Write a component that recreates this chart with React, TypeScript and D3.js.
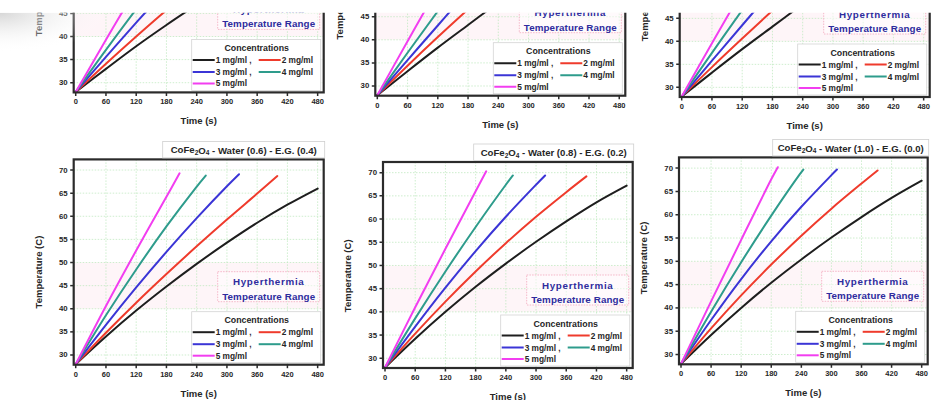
import React from 'react';
import * as d3 from 'd3';

type Pt = [number, number];

// ---------- data ----------
const concentrationLabels = ['1 mg/ml ,', '2 mg/ml', '3 mg/ml ,', '4 mg/ml', '5 mg/ml'];
const seriesColors = ['#1e1e1e', '#ef3b2c', '#3b35d6', '#2e9c8c', '#f23ef0'];
const timeTicks = [0, 60, 120, 180, 240, 300, 360, 420, 480];
const tempTicks = [30, 35, 40, 45, 50, 55, 60, 65, 70];
const waterFractions = ['', '', '', '(0.6)', '(0.8)', '(1.0)'];
const egFractions = ['', '', '', '(0.4)', '(0.2)', '(0.0)'];
const timeDomain: Pt = [-4, 492];
const tempDomain: Pt = [27.9, 72.3];
const hyperthermiaBand: Pt = [40, 50];

// top row (only lower part visible)
const topLeft1: Pt[] = [[0, 28], [60, 33], [120, 37.9], [180, 42.5], [240, 46.9]];
const topLeft2: Pt[] = [[0, 28], [60, 34.1], [120, 40], [180, 45.7], [200, 47.5]];
const topLeft3: Pt[] = [[0, 28], [60, 35.6], [120, 43], [160, 47.8]];
const topLeft4: Pt[] = [[0, 28], [60, 37.1], [120, 45.9], [140, 48.7]];
const topLeft5: Pt[] = [[0, 28], [60, 39.3], [100, 46.7]];

const topMid1: Pt[] = [[0, 28], [60, 33.2], [120, 38.3], [180, 43.2], [240, 48.1]];
const topMid2: Pt[] = [[0, 28], [60, 34.4], [120, 40.6], [180, 46.6], [200, 48.6]];
const topMid3: Pt[] = [[0, 28], [60, 35.6], [120, 43.1], [160, 48.1]];
const topMid4: Pt[] = [[0, 28], [60, 37.2], [120, 46.2], [140, 49.2]];
const topMid5: Pt[] = [[0, 28], [60, 39.7], [100, 47.4]];

const topRight1: Pt[] = [[0, 28], [60, 33.2], [120, 38.3], [180, 43.2], [240, 48.1]];
const topRight2: Pt[] = [[0, 28], [60, 34.4], [120, 40.6], [180, 46.7], [200, 48.7]];
const topRight3: Pt[] = [[0, 28], [60, 35.8], [120, 43.5], [160, 48.6]];
const topRight4: Pt[] = [[0, 28], [60, 37.5], [120, 46.8], [140, 49.8]];
const topRight5: Pt[] = [[0, 28], [60, 39.6], [100, 47.2]];

// bottom row
const bottomLeft1: Pt[] = [[0, 28], [60, 34], [120, 39.6], [180, 44.8], [240, 49.7], [300, 54.3], [360, 58.6], [420, 62.5], [480, 66]];
const bottomLeft2: Pt[] = [[0, 28], [60, 34.8], [120, 41.3], [180, 47.5], [240, 53.5], [300, 59.3], [360, 64.9], [400, 68.7]];
const bottomLeft3: Pt[] = [[0, 28], [60, 36.5], [120, 44.6], [180, 52.3], [240, 59.6], [300, 66.5], [324, 69.1]];
const bottomLeft4: Pt[] = [[0, 28], [60, 38.6], [120, 48.5], [180, 57.8], [237, 66], [258, 68.8]];
const bottomLeft5: Pt[] = [[0, 28], [60, 40.6], [120, 52.6], [180, 64.2], [206, 69.3]];

const bottomMid1: Pt[] = [[0, 28], [60, 34.2], [120, 40], [180, 45.4], [240, 50.4], [300, 55.1], [360, 59.5], [420, 63.6], [480, 67.2]];
const bottomMid2: Pt[] = [[0, 28], [60, 35.3], [120, 42.2], [180, 48.7], [240, 54.8], [300, 60.5], [360, 65.8], [400, 69.2]];
const bottomMid3: Pt[] = [[0, 28], [60, 36.8], [120, 45.2], [180, 53.1], [240, 60.5], [300, 67.4], [318, 69.4]];
const bottomMid4: Pt[] = [[0, 28], [60, 38.6], [120, 48.7], [180, 58.3], [240, 67.4], [254, 69.4]];
const bottomMid5: Pt[] = [[0, 28], [60, 41], [120, 53.6], [180, 66], [201, 70.3]];

const bottomRight1: Pt[] = [[0, 28], [60, 34.2], [120, 40], [180, 45.4], [240, 50.4], [300, 55.1], [360, 59.5], [420, 63.6], [480, 67.3]];
const bottomRight2: Pt[] = [[0, 28], [60, 35.6], [120, 42.7], [180, 49.3], [240, 55.5], [300, 61.3], [360, 66.7], [392, 69.5]];
const bottomRight3: Pt[] = [[0, 28], [60, 37.4], [120, 46.2], [180, 54.3], [240, 61.7], [300, 68.5], [311, 69.7]];
const bottomRight4: Pt[] = [[0, 28], [60, 39.2], [120, 49.8], [180, 59.8], [237, 68.7], [244, 69.7]];
const bottomRight5: Pt[] = [[0, 28], [60, 41.4], [120, 54.6], [180, 67.6], [193, 70.2]];

const panelSeries: Pt[][][] = [
  [topLeft1, topLeft2, topLeft3, topLeft4, topLeft5],
  [topMid1, topMid2, topMid3, topMid4, topMid5],
  [topRight1, topRight2, topRight3, topRight4, topRight5],
  [bottomLeft1, bottomLeft2, bottomLeft3, bottomLeft4, bottomLeft5],
  [bottomMid1, bottomMid2, bottomMid3, bottomMid4, bottomMid5],
  [bottomRight1, bottomRight2, bottomRight3, bottomRight4, bottomRight5],
];

// ---------- layout ----------
const W = 931;
const H = 400;
const CROP_TOP = 12.7;
const layouts = [
  { left: 73.7, top: -112.7, width: 250, height: 205.1, labelDy: 10, titleW: 162 },
  { left: 375.3, top: -109.4, width: 250, height: 205.1, labelDy: 10, titleW: 160 },
  { left: 679.7, top: -107.2, width: 250, height: 204.2, labelDy: 10, titleW: 156 },
  { left: 73.7, top: 159.4, width: 250, height: 205.3, labelDy: 10, titleW: 162 },
  { left: 383, top: 162, width: 249.7, height: 206, labelDy: 10.8, titleW: 160 },
  { left: 679, top: 157.4, width: 248.7, height: 206.9, labelDy: -3, titleW: 156 },
];

const FONT = '"Liberation Sans", Arial, sans-serif';
const TXT = '#262626';

function Panel({ idx }: { idx: number }) {
  const L = layouts[idx];
  const series = panelSeries[idx];
  const right = L.left + L.width;
  const bottom = L.top + L.height;
  const x = d3.scaleLinear().domain(timeDomain).range([L.left, right]);
  const y = d3.scaleLinear().domain(tempDomain).range([bottom, L.top]);
  const line = d3
    .line<Pt>()
    .x((d) => x(d[0]))
    .y((d) => y(d[1]))
    .curve(d3.curveCatmullRom.alpha(0.5));
  const clipId = `plotclip-${idx}`;
  const legLeft = right - 132;
  const legTop = bottom - 53;
  const hypLeft = right - 106;
  const hypTop = bottom - 93;
  const legendPos: [number, number][] = [
    [0, 0],
    [1, 0],
    [0, 1],
    [1, 1],
    [0, 2],
  ];
  const rowY = [20.5, 32.5, 44];
  const showTitle = idx >= 3;
  const titleRight = right + 1;
  const titleW = L.titleW;
  const titleTop = L.top - 18;

  return (
    <g>
      <defs>
        <clipPath id={clipId}>
          <rect x={L.left} y={L.top} width={L.width} height={L.height} />
        </clipPath>
      </defs>
      {/* hyperthermia band */}
      <rect
        x={L.left}
        y={y(hyperthermiaBand[1])}
        width={L.width}
        height={y(hyperthermiaBand[0]) - y(hyperthermiaBand[1])}
        fill="#fef5f8"
      />
      {/* grid */}
      {timeTicks.slice(1).map((t) => (
        <line key={'gx' + t} x1={x(t)} x2={x(t)} y1={L.top} y2={bottom} stroke="#c2eac2" strokeWidth={0.8} strokeDasharray="1.5 1.5" />
      ))}
      {tempTicks.map((t) => (
        <line key={'gy' + t} x1={L.left} x2={right} y1={y(t)} y2={y(t)} stroke="#c2eac2" strokeWidth={0.8} strokeDasharray="1.5 1.5" />
      ))}
      {/* hyperthermia box */}
      <rect x={hypLeft} y={hypTop} width={102} height={30} fill="#ffffff" fillOpacity={0.5} stroke="#f2a7bd" strokeWidth={0.8} strokeDasharray="1.5 1.2" />
      <text x={hypLeft + 51} y={hypTop + 10} textAnchor="middle" dominantBaseline="central" fontFamily={FONT} fontWeight="bold" fontSize={9.8} fill="#2e2c9e" letterSpacing={0.7}>
        Hyperthermia
      </text>
      <text x={hypLeft + 51} y={hypTop + 24.5} textAnchor="middle" dominantBaseline="central" fontFamily={FONT} fontWeight="bold" fontSize={9.8} fill="#2e2c9e" letterSpacing={0.1}>
        Temperature Range
      </text>
      {/* legend */}
      <rect x={legLeft} y={legTop} width={129} height={51} fill="#ffffff" stroke="#d4d4d4" strokeWidth={0.8} />
      <text x={legLeft + 65} y={legTop + 8.5} textAnchor="middle" dominantBaseline="central" fontFamily={FONT} fontWeight="bold" fontSize={8.8} fill={TXT}>
        Concentrations
      </text>
      {concentrationLabels.map((lab, i) => {
        const [c, r] = legendPos[i];
        const lx = c === 0 ? legLeft + 1 : legLeft + 67;
        const ly = legTop + rowY[r];
        return (
          <g key={'leg' + i}>
            <line x1={lx} x2={lx + 22} y1={ly} y2={ly} stroke={seriesColors[i]} strokeWidth={2} />
            <text x={lx + 23} y={ly} dominantBaseline="central" fontFamily={FONT} fontWeight="bold" fontSize={8.3} fill={TXT}>
              {lab}
            </text>
          </g>
        );
      })}
      {/* curves */}
      <g clipPath={`url(#${clipId})`}>
        {series.map((s, i) => (
          <path key={'s' + i} d={line(s) || ''} fill="none" stroke={seriesColors[i]} strokeWidth={2} strokeLinecap="round" />
        ))}
      </g>
      {/* frame */}
      <rect x={L.left} y={L.top} width={L.width} height={L.height} fill="none" stroke="#2b2b2b" strokeWidth={2.2} />
      {/* x axis */}
      {timeTicks.map((t) => (
        <g key={'xt' + t}>
          <line x1={x(t)} x2={x(t)} y1={bottom} y2={bottom + 3.5} stroke="#2b2b2b" strokeWidth={1.5} />
          <text x={x(t)} y={bottom + 9.5} textAnchor="middle" dominantBaseline="central" fontFamily={FONT} fontWeight="bold" fontSize={7.5} fill={TXT}>
            {t}
          </text>
        </g>
      ))}
      {tempTicks
        .filter((t) => y(t) > CROP_TOP - 4)
        .map((t) => (
          <g key={'yt' + t}>
            <line x1={L.left - 3.5} x2={L.left} y1={y(t)} y2={y(t)} stroke="#2b2b2b" strokeWidth={1.5} />
            <text x={L.left - 6} y={y(t)} textAnchor="end" dominantBaseline="central" fontFamily={FONT} fontWeight="bold" fontSize={7.8} fill={TXT}>
              {t}
            </text>
          </g>
        ))}
      <text x={(L.left + right) / 2} y={bottom + 28.5} textAnchor="middle" dominantBaseline="central" fontFamily={FONT} fontWeight="bold" fontSize={9.5} fill={TXT}>
        Time (s)
      </text>
      <text
        transform={`translate(${L.left - 35.5},${(L.top + bottom) / 2 + L.labelDy}) rotate(-90)`}
        textAnchor="middle"
        dominantBaseline="central"
        fontFamily={FONT}
        fontWeight="bold"
        fontSize={9.5}
        fill={TXT}
      >
        Temperature (C)
      </text>
      {showTitle && (
        <g>
          <rect x={titleRight - titleW} y={titleTop} width={titleW} height={16.5} fill="#ffffff" stroke="#cfcfcf" strokeWidth={0.8} />
          <text x={titleRight - titleW / 2} y={titleTop + 8.3} textAnchor="middle" dominantBaseline="central" fontFamily={FONT} fontWeight="bold" fontSize={9.6} fill={TXT}>
            CoFe
            <tspan dy={2.5} fontSize={6.5}>2</tspan>
            <tspan dy={-2.5}>O</tspan>
            <tspan dy={2.5} fontSize={6.5}>4</tspan>
            <tspan dy={-2.5}>{` - Water ${waterFractions[idx]} - E.G. ${egFractions[idx]}`}</tspan>
          </text>
        </g>
      )}
    </g>
  );
}

export default function App() {
  return (
    <svg
      width={W}
      height={H}
      viewBox={`0 0 ${W} ${H}`}
      style={{ position: 'absolute', left: 0, top: 0, background: '#ffffff' }}
    >
      <defs>
        <clipPath id="cropArea">
          <rect x={0} y={CROP_TOP} width={W} height={H - CROP_TOP} />
        </clipPath>
        <radialGradient id="shade" cx="0" cy="0" r="1" gradientUnits="userSpaceOnUse" gradientTransform={`translate(0 ${CROP_TOP}) scale(110 40)`}>
          <stop offset="0" stopColor="#d2d2d2" stopOpacity={0.9} />
          <stop offset="1" stopColor="#ffffff" stopOpacity={0} />
        </radialGradient>
      </defs>
      <rect x={0} y={0} width={W} height={H} fill="#ffffff" />
      <g clipPath="url(#cropArea)">
        {layouts.map((_, i) => (
          <Panel key={i} idx={i} />
        ))}
        <rect x={0} y={CROP_TOP} width={120} height={45} fill="url(#shade)" />
      </g>
    </svg>
  );
}
